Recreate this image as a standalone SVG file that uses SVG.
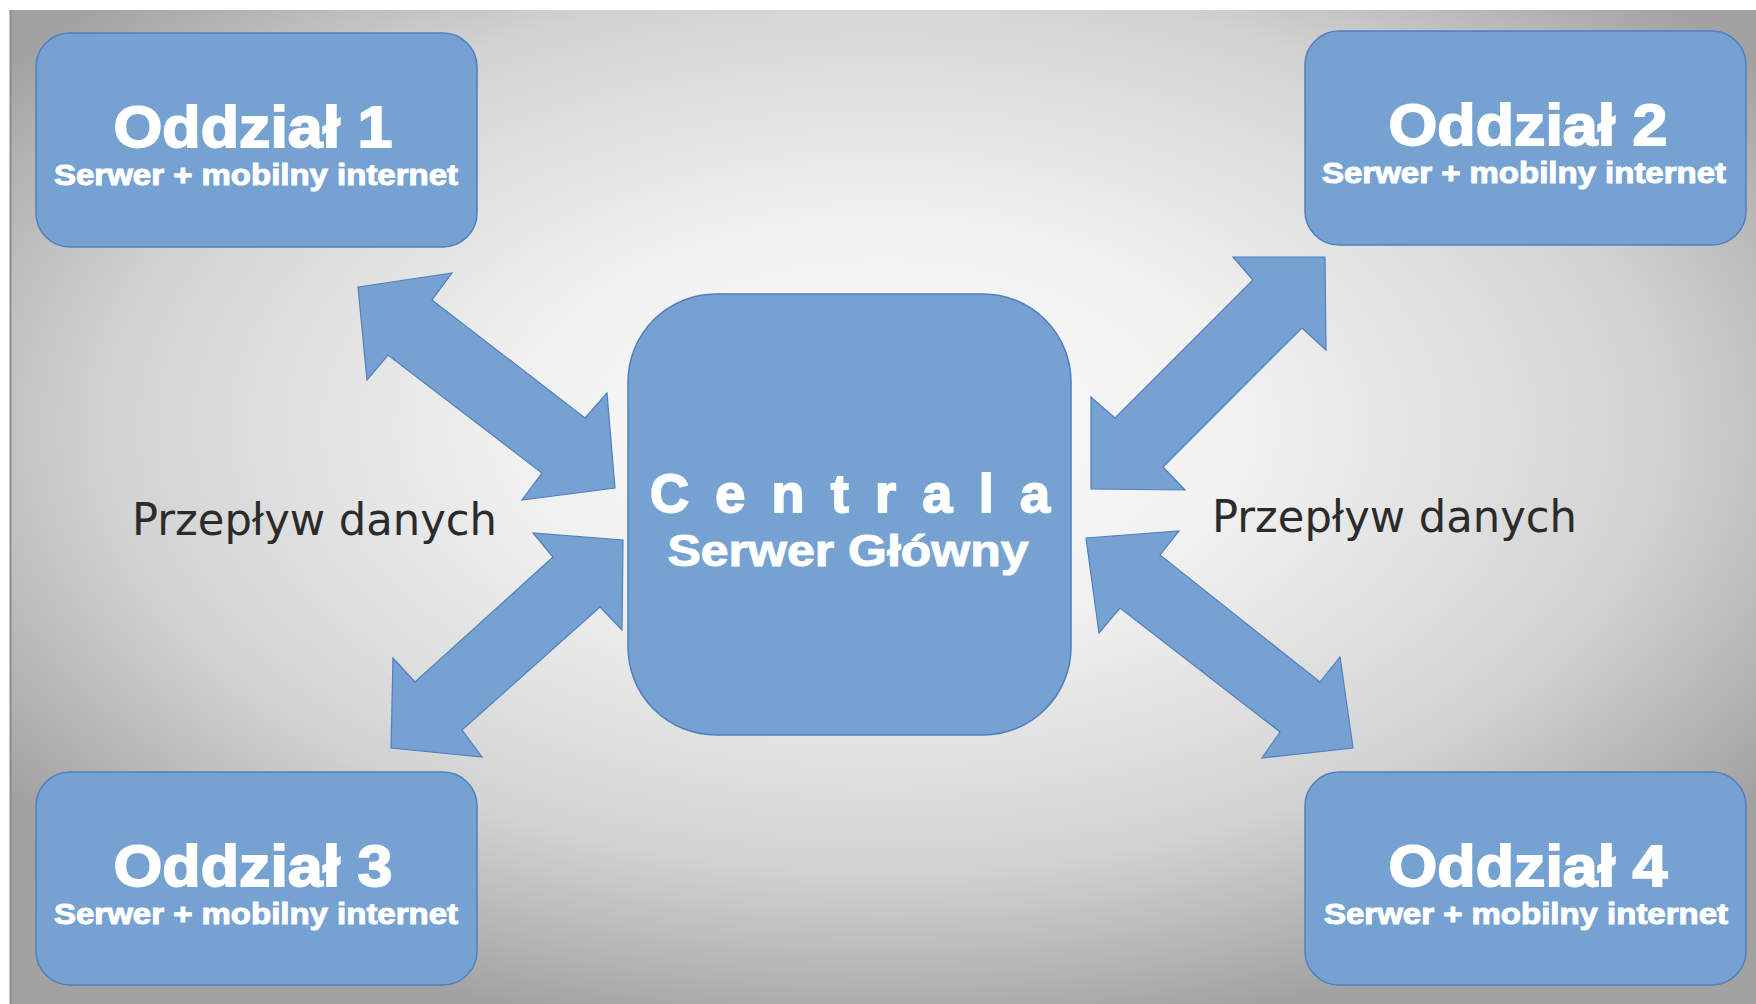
<svg xmlns="http://www.w3.org/2000/svg" width="1756" height="1004" viewBox="0 0 1756 1004">
<defs>
<radialGradient id="bg" cx="0.5" cy="0.42" r="0.62">
<stop offset="0" stop-color="#fdfdfd"/>
<stop offset="0.35" stop-color="#f0f0f0"/>
<stop offset="0.72" stop-color="#d2d2d2"/>
<stop offset="1" stop-color="#a2a2a2"/>
</radialGradient>
<style>
.box{fill:#76a2d2;stroke:#4f7fbf;stroke-width:1.5}
.arrow{fill:#76a2d2;stroke:#4f7fbf;stroke-width:1.2;stroke-linejoin:miter}
.title{font-family:"Liberation Sans",Arial,sans-serif;font-weight:bold;fill:#fff;stroke:#fff;stroke-width:1.8;text-anchor:middle}
.sub{font-family:"Liberation Sans",Arial,sans-serif;font-weight:bold;fill:#fff;stroke:#fff;stroke-width:1;text-anchor:middle}
.flow{font-family:"DejaVu Sans","Noto Sans",sans-serif;fill:#2b2b2b;font-size:45px}
</style>
</defs>
<rect x="0" y="0" width="1756" height="1004" fill="#ffffff"/>
<rect x="10" y="10" width="1746" height="994" fill="url(#bg)"/>
<line x1="10.5" y1="10" x2="10.5" y2="1004" stroke="#8c8c8c" stroke-width="2"/>

<g id="connectors">
<polygon class="arrow" points="358,287 452,273 432,300 585,418 607,393 615,488 522,500 542,473 388,355 367,380"/>
<polygon class="arrow" points="623,540 622,630 600,607 462,730 482,757 391,748 393,658 415,682 553,557 533,533"/>
<polygon class="arrow" points="1325,257 1326,350 1302,328 1163,467 1185,490 1091,489 1091,397 1115,418 1253,280 1233,257"/>
<polygon class="arrow" points="1086,538 1179,531 1160,555 1320,682 1340,657 1353,748 1262,758 1280,732 1120,608 1099,633"/>
</g>

<g id="label-left"><text class="flow" x="132" y="535" textLength="365" lengthAdjust="spacingAndGlyphs">Przepływ danych</text></g>
<g id="label-right"><text class="flow" x="1212" y="532" textLength="365" lengthAdjust="spacingAndGlyphs">Przepływ danych</text></g>

<g id="oddzial1">
<rect class="box" x="36" y="33" width="441" height="214" rx="34"/>
<text class="title" x="253" y="147" font-size="58" textLength="279" lengthAdjust="spacingAndGlyphs">Oddział 1</text>
<text class="sub" x="256" y="185" font-size="29" textLength="404" lengthAdjust="spacingAndGlyphs">Serwer + mobilny internet</text>
</g>
<g id="oddzial2">
<rect class="box" x="1305" y="31" width="441" height="214" rx="34"/>
<text class="title" x="1528" y="145" font-size="58" textLength="279" lengthAdjust="spacingAndGlyphs">Oddział 2</text>
<text class="sub" x="1524" y="183" font-size="29" textLength="404" lengthAdjust="spacingAndGlyphs">Serwer + mobilny internet</text>
</g>
<g id="oddzial3">
<rect class="box" x="36" y="772" width="441" height="213" rx="34"/>
<text class="title" x="253" y="886" font-size="58" textLength="279" lengthAdjust="spacingAndGlyphs">Oddział 3</text>
<text class="sub" x="256" y="924" font-size="29" textLength="404" lengthAdjust="spacingAndGlyphs">Serwer + mobilny internet</text>
</g>
<g id="oddzial4">
<rect class="box" x="1305" y="772" width="441" height="213" rx="34"/>
<text class="title" x="1528" y="886" font-size="58" textLength="279" lengthAdjust="spacingAndGlyphs">Oddział 4</text>
<text class="sub" x="1526" y="924" font-size="29" textLength="404" lengthAdjust="spacingAndGlyphs">Serwer + mobilny internet</text>
</g>
<g id="centrala">
<rect class="box" x="628" y="294" width="443" height="441" rx="88"/>
<text class="title" x="850" y="512" font-size="54" stroke-width="2" textLength="400" lengthAdjust="spacing">Centrala</text>
<text class="sub" x="848" y="566" font-size="44" stroke-width="1.5" textLength="361" lengthAdjust="spacingAndGlyphs">Serwer Główny</text>
</g>
</svg>
